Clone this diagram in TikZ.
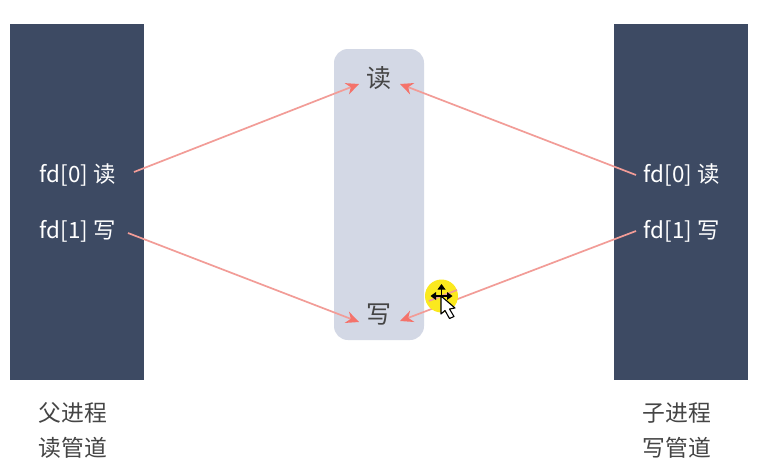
\documentclass[tikz,border=0pt]{standalone}
\usepackage{fontspec}
\setmainfont{Noto Sans CJK SC}
\usetikzlibrary{arrows.meta}
\definecolor{panel}{HTML}{3D4A63}
\definecolor{pipe}{HTML}{D3D8E5}
\definecolor{link}{HTML}{F29C97}
\definecolor{tip}{HTML}{F4736B}
\definecolor{ink}{HTML}{454545}
\definecolor{halo}{HTML}{FBE91E}
\tikzset{
  x=1pt,y=-1pt,
  procbox/.style={fill=panel,draw=none,minimum width=134pt,minimum height=356pt,inner sep=0pt},
  pipebox/.style={fill=pipe,draw=none,rounded corners=14pt,minimum width=90pt,minimum height=291pt,inner sep=0pt},
  fdtext/.style={text=white,font=\fontsize{22.4}{23}\selectfont,inner sep=0pt},
  endtext/.style={text=ink,font=\fontsize{25}{25}\selectfont,inner sep=0pt},
  captext/.style={text=ink,font=\fontsize{22.8}{23}\selectfont,inner sep=0pt},
  linkline/.style={draw=link,line width=1.7pt,-{Stealth[length=13pt,width=12pt,color=tip]}},
}
\begin{document}
\begin{tikzpicture}
\useasboundingbox (0,0) rectangle (779,474);
\fill[white] (0,0) rectangle (779,474);
\node[procbox] (parent) at (77,202) {};
\node[procbox] (child) at (681,202) {};
\node[pipebox] (pipe) at (379,194.5) {};
\node[fdtext] (pr) at (77.5,174.5) {fd[0] 读};
\node[fdtext] (pw) at (77.5,231.5) {fd[1] 写};
\node[fdtext] (cr) at (681.5,174.5) {fd[0] 读};
\node[fdtext] (cw) at (681.5,231.5) {fd[1] 写};
\node[endtext] (rd) at (378.5,78) {读};
\node[endtext] (wr) at (378.5,315) {写};
\node[captext] (pc1) at (73,413) {父进程};
\node[captext] (pc2) at (73,448) {读管道};
\node[captext] (cc1) at (677,413) {子进程};
\node[captext] (cc2) at (677,448) {写管道};
\coordinate (prO) at (134,172);
\coordinate (pwO) at (128,233);
\coordinate (crO) at (636,175);
\coordinate (cwO) at (636,231);
\coordinate (rdL) at (359,84);
\coordinate (rdR) at (400,84);
\coordinate (wrL) at (359,322);
\coordinate (wrR) at (400,321);
\draw[linkline] (prO) -- (rdL);
\draw[linkline] (crO) -- (rdR);
\draw[linkline] (pwO) -- (wrL);
\draw[linkline] (cwO) -- (wrR);
\fill[halo] (441.5,296) circle (16.5);
\draw[link,line width=1.7pt] (457,290) -- (429,301);
% move cursor
\draw[black,line width=1.4pt] (433,296) -- (450,296) (441.5,288) -- (441.5,304);
\fill[black] (441.5,284) -- (445.5,289.5) -- (437.5,289.5) -- cycle;
\fill[black] (430.5,296) -- (436,292) -- (436,300) -- cycle;
\fill[black] (452.5,296) -- (447,292) -- (447,300) -- cycle;
\filldraw[fill=white,draw=black,line width=1.1pt,line join=round]
  (441,296) -- (441,314) -- (445,310.5) -- (449.5,318.5) -- (454,316.5) -- (449.5,309) -- (455,308) -- cycle;
\end{tikzpicture}
\end{document}
